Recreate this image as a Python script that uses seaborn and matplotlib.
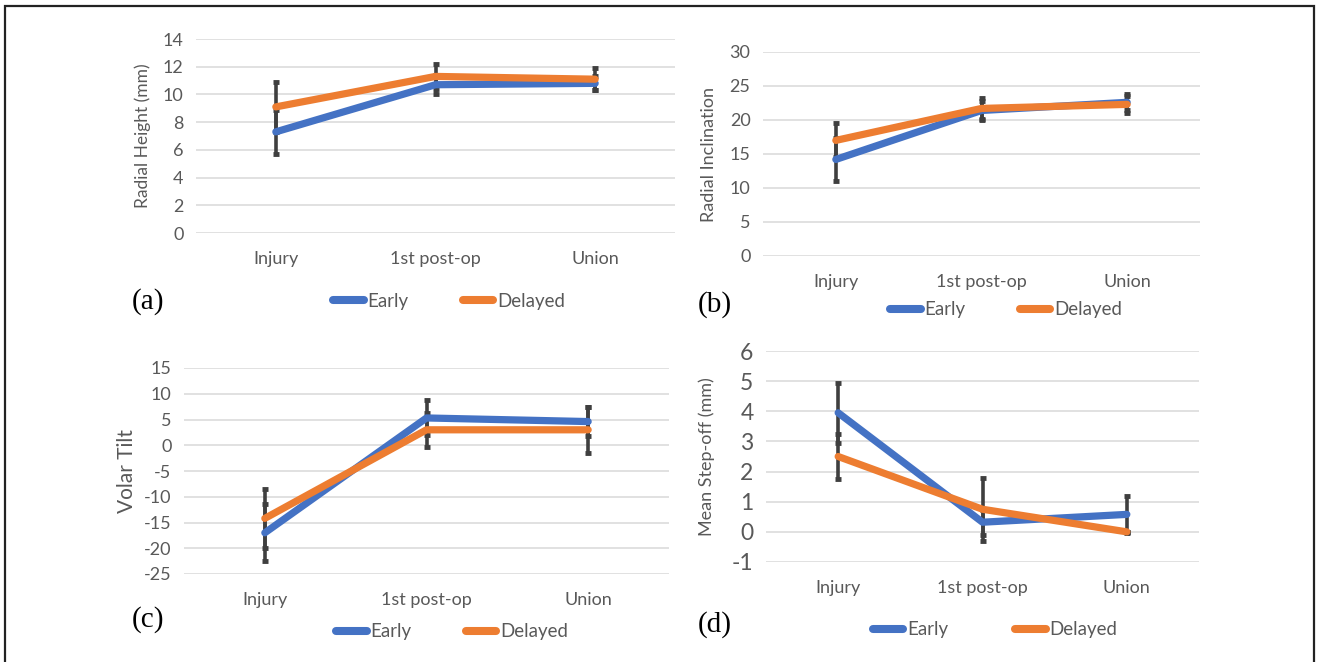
#
# Radiographic parameters, early vs delayed fixation
#

import pandas as pd
import numpy as np
import matplotlib
matplotlib.use('Agg')
import matplotlib.pyplot as plt
import matplotlib.patches as mpatches
from matplotlib.lines import Line2D
import seaborn as sns

#%%

stages = ['Injury', '1st post-op', 'Union']
groups = ['Early', 'Delayed']

# (a) radial height
rh_early = [7.3, 10.7, 10.8]
rh_early_sd = [1.6, 0.7, 0.5]
rh_delayed = [9.1, 11.3, 11.1]
rh_delayed_sd = [1.8, 0.9, 0.8]

# (b) radial inclination
ri_early = [14.2, 21.4, 22.6]
ri_early_sd = [3.2, 1.4, 1.2]
ri_delayed = [17.0, 21.7, 22.3]
ri_delayed_sd = [2.5, 1.6, 1.3]

# (c) volar tilt
vt_early = [-17.0, 5.3, 4.6]
vt_early_sd = [5.5, 3.4, 2.9]
vt_delayed = [-14.2, 3.0, 3.0]
vt_delayed_sd = [5.7, 3.3, 4.5]

# (d) step-off
so_early = [3.95, 0.32, 0.58]
so_early_sd = [1.0, 0.42, 0.62]
so_delayed = [2.5, 0.75, 0.0]
so_delayed_sd = [0.75, 1.05, 0.0]

colors = {'Early': '#4472C4', 'Delayed': '#ED7D31'}

#%%

sns.set_theme(style='white')
plt.rcParams['font.family'] = ['Lato', 'DejaVu Sans']
plt.rcParams['axes.unicode_minus'] = False

W, H = 1317, 662
fig = plt.figure(figsize=(W / 100, H / 100), dpi=100)

def px_axes(x0, y0, x1, y1):
    # pixel box (top-left origin) -> figure axes
    return fig.add_axes([x0 / W, 1 - y1 / H, (x1 - x0) / W, (y1 - y0) / H])

panels = [
    dict(box=(196, 39, 675, 233), e=rh_early, esd=rh_early_sd, d=rh_delayed, dsd=rh_delayed_sd,
         ylim=(0, 14), step=2, ylabel='Radial Height (mm)', lx=-0.094, lsize=12.5, tsize=13,
         leg=(449, 301), colsp=2.9, tag='(a)', tpos=(148, 302)),
    dict(box=(763, 52, 1200, 256), e=ri_early, esd=ri_early_sd, d=ri_delayed, dsd=ri_delayed_sd,
         ylim=(0, 30), step=5, ylabel='Radial Inclination', lx=-0.105, lsize=13, tsize=13,
         leg=(1006, 310), colsp=2.9, tag='(b)', tpos=(715, 305)),
    dict(box=(184, 368, 669, 574), e=vt_early, esd=vt_early_sd, d=vt_delayed, dsd=vt_delayed_sd,
         ylim=(-25, 15), step=5, ylabel='Volar Tilt', lx=-0.097, lsize=15, tsize=13,
         leg=(452, 632), colsp=2.9, tag='(c)', tpos=(148, 620)),
    dict(box=(766, 351, 1199, 562), e=so_early, esd=so_early_sd, d=so_delayed, dsd=so_delayed_sd,
         ylim=(-1, 6), step=1, ylabel='Mean Step-off (mm)', lx=-0.118, lsize=13, tsize=16.5,
         leg=(995, 630), colsp=3.6, tag='(d)', tpos=(715, 625)),
]

for p in panels:
    ax = px_axes(*p['box'])

    df = pd.DataFrame({
        'stage': stages * 2,
        'group': ['Early'] * 3 + ['Delayed'] * 3,
        'value': p['e'] + p['d'],
        'sd': p['esd'] + p['dsd'],
    })

    # error bars behind the lines
    for g in groups:
        sub = df[df['group'] == g]
        ax.errorbar(np.arange(3), sub['value'], yerr=sub['sd'], fmt='none',
                    ecolor='#3F3F3F', elinewidth=2.6, capsize=2.5, capthick=3.5, zorder=2)

    sns.lineplot(data=df, x='stage', y='value', hue='group', hue_order=groups,
                 palette=colors, linewidth=5.2, sort=False, legend=False, ax=ax, zorder=3)
    for ln in ax.lines:
        ln.set_solid_capstyle('round')
        ln.set_solid_joinstyle('round')

    ax.set_xlim(-0.5, 2.5)
    ax.set_ylim(*p['ylim'])
    ax.set_yticks(np.arange(p['ylim'][0], p['ylim'][1] + p['step'] / 2, p['step']))
    ax.yaxis.grid(True, color='#D9D9D9', linewidth=1.1)
    ax.set_axisbelow(True)
    for s in ax.spines.values():
        s.set_visible(False)
    ax.tick_params(axis='both', length=0, colors='#595959')
    ax.tick_params(axis='y', labelsize=p['tsize'], pad=9)
    ax.tick_params(axis='x', labelsize=13, pad=13)
    ax.set_xlabel('')
    ax.set_ylabel(p['ylabel'], fontsize=p['lsize'], color='#595959')
    ax.yaxis.set_label_coords(p['lx'], 0.5)

    # legend below the panel
    handles = [Line2D([0], [0], color=colors[g], linewidth=5.8, solid_capstyle='round') for g in groups]
    lx, ly = p['leg']
    ax.legend(handles, groups, loc='center', bbox_to_anchor=(lx / W, 1 - ly / H),
              bbox_transform=fig.transFigure, ncol=2, frameon=False, fontsize=13.4,
              handlelength=1.65, handletextpad=0.2, columnspacing=p['colsp'], labelcolor='#595959')

    tx, ty = p['tpos']
    fig.text(tx / W, 1 - ty / H, p['tag'], ha='center', va='center',
             fontsize=21, family='Liberation Serif', color='black')

# outer frame
fig.patches.append(mpatches.Rectangle((5 / W, -0.05), (1314 - 5) / W, 1.05 - 6 / H,
                                      transform=fig.transFigure, fill=False,
                                      edgecolor='#222222', linewidth=1.6))

fig.savefig('out.png', dpi=100)
